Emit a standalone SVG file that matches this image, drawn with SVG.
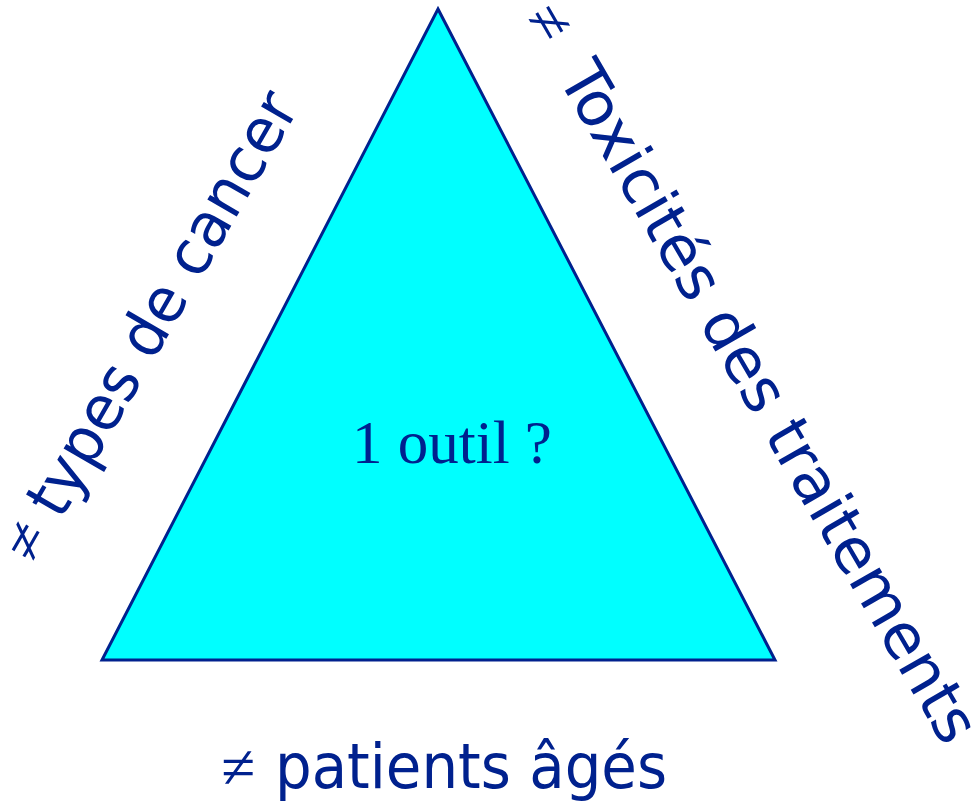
<svg xmlns="http://www.w3.org/2000/svg" width="975" height="804" viewBox="0 0 975 804">
  <style>
    .label { font-family: "DejaVu Sans", "Liberation Sans", sans-serif; font-size: 62px; fill: #00218E; }
    .neq { font-family: "Liberation Serif", serif; font-size: 62px; fill: #00218E; }
    .center { font-family: "Liberation Serif", serif; font-size: 61px; fill: #00218E; }
    .tri { fill: #00FFFF; stroke: #00218E; stroke-width: 3; stroke-linejoin: miter; }
  </style>
  <rect width="975" height="804" fill="#FFFFFF"/>

  <!-- central triangle with its question -->
  <g id="triangle">
    <polygon class="tri" points="438,9 775,660 102,660"/>
    <text class="center" x="352" y="463">1 outil ?</text>
  </g>

  <!-- left side label, rising along the edge -->
  <g id="label-left" transform="translate(35,566) rotate(-60)">
    <text class="neq" x="0" y="0">≠</text>
    <text class="label" x="52" y="0" textLength="478" lengthAdjust="spacingAndGlyphs">types de cancer</text>
  </g>

  <!-- right side label, descending along the edge -->
  <g id="label-right" transform="translate(523,18) rotate(60)">
    <text class="neq" x="0" y="0">≠</text>
    <text class="label" x="68" y="0" textLength="775" lengthAdjust="spacingAndGlyphs">Toxicités des traitements</text>
  </g>

  <!-- bottom label -->
  <g id="label-bottom">
    <text class="neq" x="221" y="788">≠</text>
    <text class="label" x="275" y="788" textLength="392" lengthAdjust="spacingAndGlyphs">patients âgés</text>
  </g>
</svg>
